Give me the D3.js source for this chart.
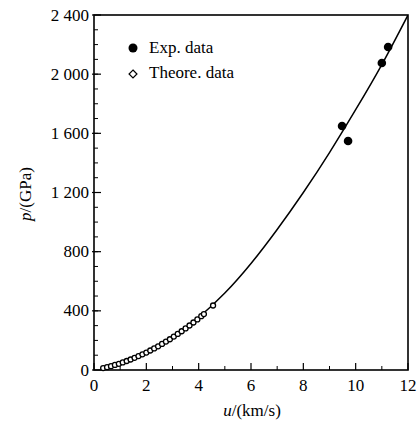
<!DOCTYPE html>
<html>
<head>
<meta charset="utf-8">
<script src="https://cdn.jsdelivr.net/npm/d3@7.9.0/dist/d3.min.js"></script>
<style>
  body { margin: 0; background: #fff; }
</style>
</head>
<body>
<svg id="chart" width="418" height="421"></svg>
<script>
// Experimental points (u in km/s, p in GPa)
const expU = [9.48, 9.71, 11.0, 11.24];
const expP = [1650, 1548, 2075, 2184];

// Theoretical points
const theoU = [0.35, 0.5, 0.65, 0.8, 0.95, 1.1, 1.25, 1.4, 1.55, 1.7, 1.85, 2.0,
  2.15, 2.3, 2.45, 2.6, 2.75, 2.9, 3.05, 3.2, 3.35, 3.5, 3.65, 3.8, 3.95, 4.1, 4.2, 4.55];
const theoP = [13, 19, 26, 34, 42, 51, 61, 71, 82, 94, 106, 118,
  132, 146, 160, 176, 192, 208, 226, 244, 262, 281, 301, 321, 342, 364, 378, 436];

// Fitted curve
const fitU = [0.3, 1, 2, 3, 4, 5, 6, 7, 8, 9, 10, 11, 12];
const fitP = [11, 45, 116, 220, 355, 520, 720, 950, 1200, 1470, 1760, 2065, 2400];

const xTicks = [0, 2, 4, 6, 8, 10, 12];
const yTicks = [0, 400, 800, 1200, 1600, 2000, 2400];
const yTickLabels = ["0", "400", "800", "1 200", "1 600", "2 000", "2 400"];

const legendLabels = ["Exp. data", "Theore. data"];

const FONT = "'Liberation Serif', 'Times New Roman', Tinos, 'DejaVu Serif', serif";
const margin = { left: 94, right: 10, top: 15, bottom: 51 };
const W = 418, H = 421;

const svg = d3.select("#chart").attr("font-family", FONT);

const x = d3.scaleLinear().domain([0, 12]).range([margin.left, W - margin.right]);
const y = d3.scaleLinear().domain([0, 2400]).range([H - margin.bottom, margin.top]);

// clip for the curve
svg.append("clipPath").attr("id", "clip")
  .append("rect")
  .attr("x", x(0)).attr("y", y(2400))
  .attr("width", x(12) - x(0)).attr("height", y(0) - y(2400));

// frame
svg.append("rect")
  .attr("x", x(0)).attr("y", y(2400))
  .attr("width", x(12) - x(0)).attr("height", y(0) - y(2400))
  .attr("fill", "none").attr("stroke", "#000").attr("stroke-width", 1.6);

// x ticks (inward)
const xAxis = svg.append("g").attr("transform", `translate(0,${y(0)})`);
xAxis.selectAll("line.major").data(xTicks).join("line")
  .attr("x1", d => x(d)).attr("x2", d => x(d))
  .attr("y1", 0).attr("y2", -7)
  .attr("stroke", "#000").attr("stroke-width", 1.2);
xAxis.selectAll("line.minor").data(d3.range(1, 12, 2)).join("line")
  .attr("x1", d => x(d)).attr("x2", d => x(d))
  .attr("y1", 0).attr("y2", -4)
  .attr("stroke", "#000").attr("stroke-width", 1);
xAxis.selectAll("text").data(xTicks).join("text")
  .attr("x", d => x(d)).attr("y", 21)
  .attr("text-anchor", "middle")
  .attr("font-family", FONT)
  .attr("font-size", 17)
  .text(d => d);

// y ticks (inward)
const yAxis = svg.append("g").attr("transform", `translate(${x(0)},0)`);
yAxis.selectAll("line.minor").data(d3.range(100, 2400, 100)).join("line")
  .attr("x1", 0).attr("x2", 4)
  .attr("y1", d => y(d)).attr("y2", d => y(d))
  .attr("stroke", "#000").attr("stroke-width", 1);
yAxis.selectAll("line.major").data(yTicks).join("line")
  .attr("x1", -2).attr("x2", 7)
  .attr("y1", d => y(d)).attr("y2", d => y(d))
  .attr("stroke", "#000").attr("stroke-width", 1.2);
yAxis.selectAll("text").data(yTicks).join("text")
  .attr("x", -5).attr("y", d => y(d) + 5.5)
  .attr("text-anchor", "end")
  .attr("font-family", FONT)
  .attr("font-size", 17)
  .text((d, i) => yTickLabels[i]);

// axis titles
const xt = svg.append("text")
  .attr("x", 252).attr("y", 416)
  .attr("text-anchor", "middle").attr("font-size", 17).attr("font-family", FONT);
xt.append("tspan").attr("font-style", "italic").text("u");
xt.append("tspan").text("/(km/s)");

const yt = svg.append("text")
  .attr("transform", "translate(31,194) rotate(-90)")
  .attr("text-anchor", "middle").attr("font-size", 17).attr("font-family", FONT);
yt.append("tspan").attr("font-style", "italic").text("p");
yt.append("tspan").text("/(GPa)");

// fitted curve
const fit = fitU.map((u, i) => [u, fitP[i]]);
svg.append("path")
  .datum(fit)
  .attr("clip-path", "url(#clip)")
  .attr("fill", "none").attr("stroke", "#000").attr("stroke-width", 1.5)
  .attr("d", d3.line().x(d => x(d[0])).y(d => y(d[1])).curve(d3.curveNatural));

// theoretical points
svg.append("g").selectAll("circle")
  .data(theoU.map((u, i) => [u, theoP[i]]))
  .join("circle")
  .attr("cx", d => x(d[0])).attr("cy", d => y(d[1]))
  .attr("r", 2.5)
  .attr("fill", "#fff").attr("stroke", "#000").attr("stroke-width", 1.3);

// experimental points
svg.append("g").selectAll("circle")
  .data(expU.map((u, i) => [u, expP[i]]))
  .join("circle")
  .attr("cx", d => x(d[0])).attr("cy", d => y(d[1]))
  .attr("r", 4.3)
  .attr("fill", "#000");

// legend
const lg = svg.append("g");
lg.append("circle").attr("cx", 133).attr("cy", 48).attr("r", 4.5).attr("fill", "#000");
lg.append("path")
  .attr("d", d3.symbol().type(d3.symbolDiamond2).size(40)())
  .attr("transform", "translate(133,74)")
  .attr("fill", "#fff").attr("stroke", "#000").attr("stroke-width", 1.2);
lg.selectAll("text").data(legendLabels).join("text")
  .attr("x", 149).attr("y", (d, i) => 53 + i * 25)
  .attr("font-family", FONT)
  .attr("font-size", 17)
  .text(d => d);
</script>
</body>
</html>
